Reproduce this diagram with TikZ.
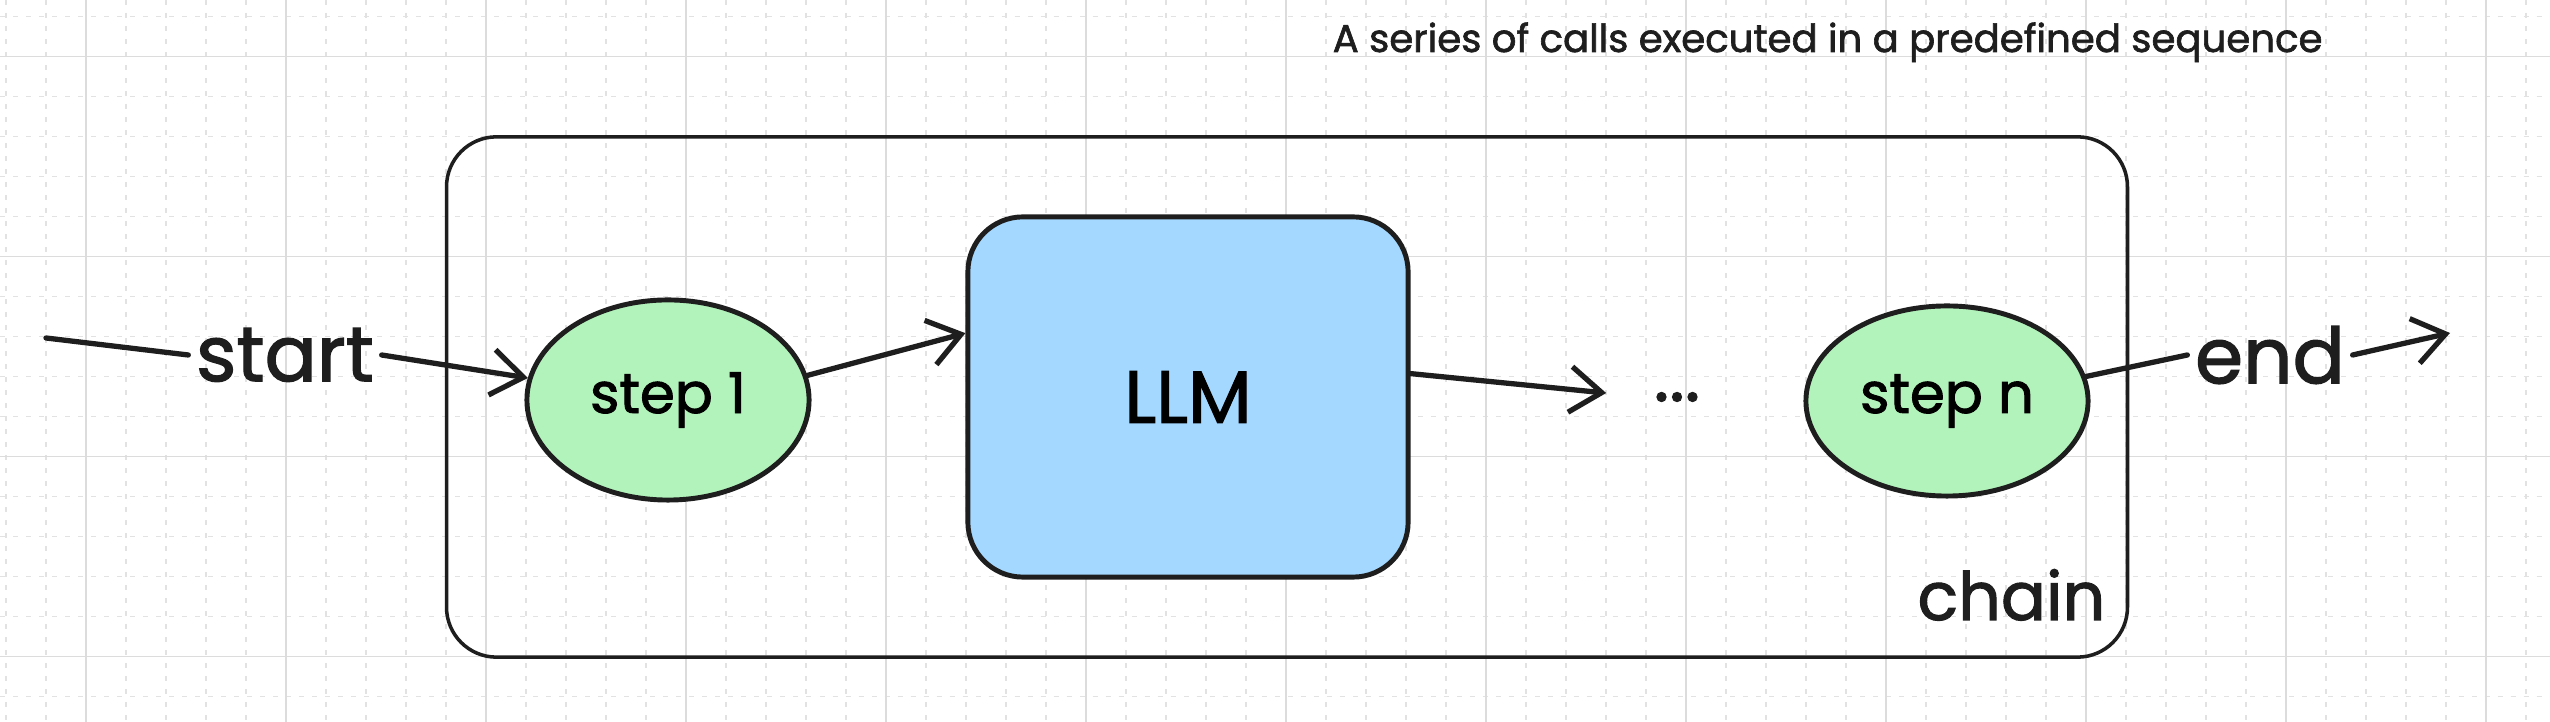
\documentclass[tikz,border=0pt]{standalone}
\usepackage{fontspec}
\setmainfont{Poppins}[FakeBold=1.6,AutoFakeBold=1.6]
\usetikzlibrary{arrows.meta,shapes.geometric}

\definecolor{ink}{HTML}{1E1E1E}
\definecolor{stepgreen}{HTML}{B2F2BB}
\definecolor{llmblue}{HTML}{A5D8FF}
\definecolor{gridmajor}{HTML}{DCDCDC}
\definecolor{gridminor}{HTML}{E2E2E2}

\tikzset{
  stepnode/.style={ellipse, draw=ink, fill=stepgreen, line width=1.4pt,
    minimum width=2.82cm, minimum height=2cm, inner sep=0pt,
    font=\fontsize{16}{18}\selectfont\bfseries},
  llmnode/.style={rectangle, rounded corners=0.55cm, draw=ink, fill=llmblue,
    line width=1.4pt, minimum width=4.4cm, minimum height=3.6cm,
    font=\fontsize{21}{24}\selectfont\bfseries},
  chainbox/.style={rectangle, rounded corners=0.5cm, draw=ink, line width=1pt,
    minimum width=16.8cm, minimum height=5.2cm},
  txt/.style={text=ink, inner sep=2pt},
  wire/.style={draw=ink, line width=1.5pt, line cap=round},
  flow/.style={wire, -{Straight Barb[length=9pt,width=13pt,line width=1.5pt]}},
}

\begin{document}
\begin{tikzpicture}[x=0.01cm, y=-0.01cm]
  \useasboundingbox[fill=white] (0,0) rectangle (2550,722);

  % grid
  \foreach \x in {6,46,...,2526}
    \draw[gridminor, line width=0.35pt, dash pattern=on 0.05cm off 0.08cm] (\x,0) -- (\x,722);
  \foreach \y in {16.7,56.7,...,700}
    \draw[gridminor, line width=0.35pt, dash pattern=on 0.05cm off 0.08cm] (0,\y) -- (2550,\y);
  \foreach \x in {86,286,...,2486}
    \draw[gridmajor, line width=0.4pt] (\x,0) -- (\x,722);
  \foreach \y in {56.7,256.7,456.7,656.7}
    \draw[gridmajor, line width=0.4pt] (0,\y) -- (2550,\y);

  % chain
  \node[chainbox] (chain) at (1287,397) {};
  \node[txt, anchor=base east, font=\fontsize{19}{22}\selectfont\bfseries] (chainlbl) at (2113,620) {chain};
  \node[txt, anchor=base west, font=\fontsize{11}{13}\selectfont\bfseries] (caption) at (1325,52)
    {A series of calls executed in a predefined sequence};

  % steps
  \node[txt, font=\fontsize{22}{24}\selectfont\bfseries] (startlbl) at (285,355) {start};
  \node[stepnode] (stepone) at (668,400) {step 1};
  \node[llmnode] (llm) at (1188,397) {LLM};
  \node[txt, font=\fontsize{21}{22}\selectfont\bfseries] (dots) at (1677,397) {...};
  \node[stepnode, minimum height=1.9cm] (stepn) at (1947,401) {step n};
  \node[txt, font=\fontsize{22}{24}\selectfont\bfseries] (endlbl) at (2270,355) {end};

  \coordinate (startin) at (46,338);
  \coordinate (endout) at (2450,333);

  % connectors
  \draw[wire] (startin) -- (startlbl.west);
  \draw[flow] (startlbl.east) -- (stepone);
  \draw[flow] (stepone.10) -- (llm.164);
  \draw[flow, shorten >=0.4cm] (llm.6) -- (dots.west);
  \draw[wire] (stepn.10) -- (endlbl.west);
  \draw[flow] (endlbl.east) -- (endout);
\end{tikzpicture}
\end{document}
